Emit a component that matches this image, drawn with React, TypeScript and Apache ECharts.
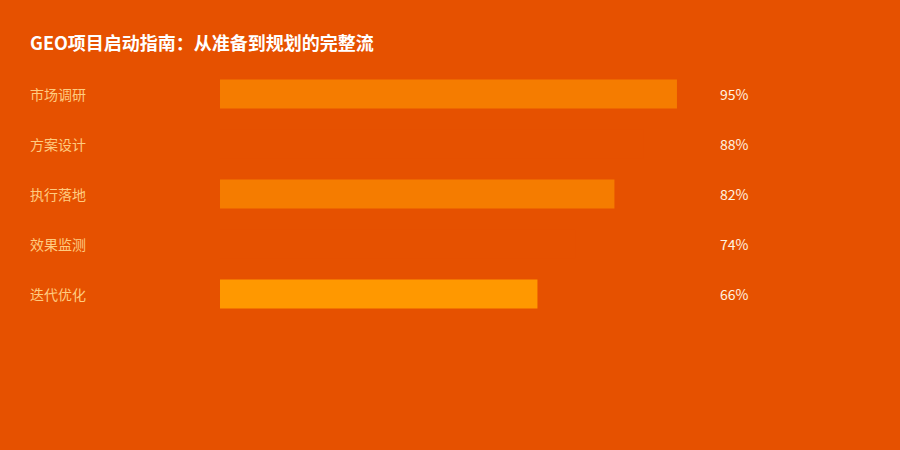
import React, { useEffect, useRef } from "react";
import * as echarts from "echarts";

const categories = ["市场调研", "方案设计", "执行落地", "效果监测", "迭代优化"];
const values = [95, 88, 82, 74, 66];
const barColors = ["#F57C00", "#E65100", "#F57C00", "#E65100", "#FF9800"];
const titleText = "GEO项目启动指南：从准备到规划的完整流";

export default function App() {
  const ref = useRef<HTMLDivElement>(null);
  useEffect(() => {
    if (!ref.current) return;
    const chart = echarts.init(ref.current, undefined, { renderer: "svg" });
    const font = "'Noto Sans CJK SC', 'Noto Sans', sans-serif";
    chart.setOption({
      animation: false,
      backgroundColor: "#E65100",
      title: {
        text: titleText,
        left: 30,
        top: 33,
        padding: 0,
        textStyle: { color: "#FFFFFF", fontSize: 18, fontWeight: "bold", fontFamily: font },
      },
      grid: { left: 220, right: 199, top: 69, bottom: 131, containLabel: false },
      xAxis: {
        type: "value",
        min: 0,
        max: 100,
        show: false,
      },
      yAxis: [
        {
          type: "category",
          data: categories,
          inverse: true,
          axisLine: { show: false },
          axisTick: { show: false },
          splitLine: { show: false },
          axisLabel: {
            align: "left",
            margin: 190,
            color: "#FFCC80",
            fontSize: 14,
            fontFamily: font,
          },
        },
        {
          type: "category",
          data: values.map((v) => v + "%"),
          inverse: true,
          position: "right",
          axisLine: { show: false },
          axisTick: { show: false },
          splitLine: { show: false },
          axisLabel: {
            align: "left",
            margin: 19,
            color: "#FFF3E0",
            fontSize: 14,
            fontFamily: font,
          },
        },
      ],
      series: [
        {
          type: "bar",
          data: values.map((v, i) => ({ value: v, itemStyle: { color: barColors[i] } })),
          barWidth: 29,
          yAxisIndex: 0,
        },
      ],
    });
    return () => chart.dispose();
  }, []);
  return (
    <div
      ref={ref}
      style={{ position: "fixed", left: 0, top: 0, width: 900, height: 450 }}
    />
  );
}
